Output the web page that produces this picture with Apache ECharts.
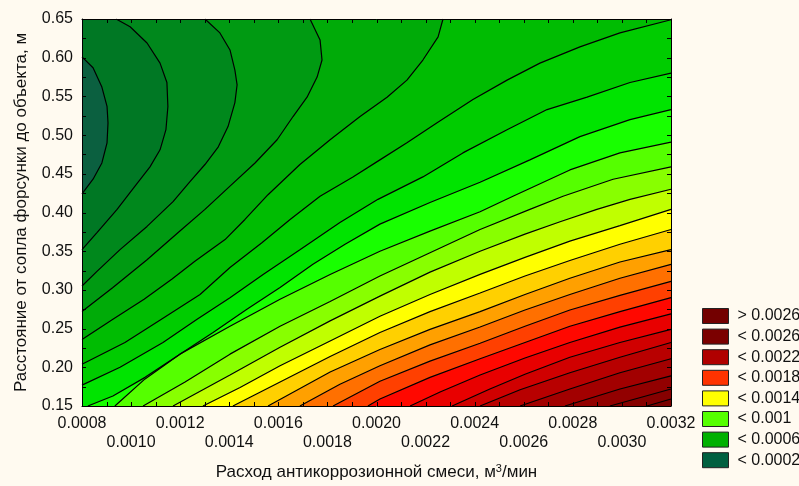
<!DOCTYPE html>
<html><head><meta charset="utf-8">
<script src="https://cdn.jsdelivr.net/npm/echarts@6/dist/echarts.min.js"></script>
<style>html,body{margin:0;padding:0;background:#fffaf0}#c{width:799px;height:486px}</style>
</head><body><div id="c"></div>
<script>
// ---- axis ranges / ticks ----
const xMin = 0.0008, xMax = 0.0032, xStep = 0.0002, xMinorStep = 0.0001;
const yMin = 0.15, yMax = 0.65, yStep = 0.05, yMinorStep = 0.025;

// ---- contour levels (values of the fitted surface) ----
const levels = [0.0002,0.0003,0.0004,0.0005,0.0006,0.0007,0.0008,0.0009,0.0010,0.0011,0.0012,0.0013,0.0014,
                0.0015,0.0016,0.0017,0.0018,0.0019,0.0020,0.0021,0.0022,0.0023,0.0024,0.0025];

// ---- contour lines: [x, y] ----
const L0002 = [[0.0008,0.601],[0.000845,0.587],[0.000881,0.562],[0.000902,0.537],[0.000906,0.516],[0.000902,0.490],[0.000881,0.464],[0.000845,0.443],[0.0008,0.424]];
const L0003 = [[0.000939,0.65],[0.000996,0.640],[0.001065,0.619],[0.001118,0.593],[0.001146,0.568],[0.00115,0.537],[0.001142,0.507],[0.001118,0.481],[0.001077,0.459],[0.001016,0.434],[0.000943,0.404],[0.000861,0.374],[0.0008,0.352]];
const L0004 = [[0.001301,0.65],[0.001362,0.632],[0.001403,0.610],[0.001423,0.584],[0.001432,0.565],[0.001423,0.542],[0.001395,0.511],[0.001354,0.484],[0.001301,0.462],[0.00124,0.440],[0.001171,0.414],[0.001065,0.382],[0.000955,0.352],[0.000861,0.324],[0.0008,0.305]];
const L0005 = [[0.001729,0.65],[0.00177,0.623],[0.001778,0.597],[0.001758,0.575],[0.001717,0.549],[0.00166,0.524],[0.001595,0.494],[0.001505,0.464],[0.001403,0.434],[0.001301,0.404],[0.001199,0.376],[0.001065,0.339],[0.000926,0.303],[0.0008,0.272]];
const L0006 = [[0.002271,0.65],[0.002251,0.627],[0.002189,0.597],[0.002124,0.571],[0.002043,0.549],[0.001933,0.524],[0.001811,0.494],[0.001688,0.462],[0.001558,0.423],[0.001464,0.391],[0.001383,0.365],[0.00126,0.337],[0.001167,0.314],[0.001053,0.288],[0.000926,0.262],[0.0008,0.236]];
const L0007 = [[0.0032,0.649],[0.002992,0.632],[0.002829,0.614],[0.002666,0.593],[0.002532,0.571],[0.002393,0.546],[0.002247,0.516],[0.002124,0.49],[0.002014,0.468],[0.001904,0.446],[0.00177,0.421],[0.001648,0.391],[0.001533,0.361],[0.001403,0.329],[0.001281,0.294],[0.001138,0.265],[0.000975,0.232],[0.0008,0.204]];
const L0008 = [[0.0032,0.58],[0.003033,0.568],[0.002858,0.549],[0.002695,0.533],[0.002532,0.507],[0.002352,0.477],[0.002189,0.446],[0.002006,0.417],[0.001851,0.387],[0.001688,0.352],[0.001538,0.32],[0.001403,0.29],[0.001269,0.262],[0.00113,0.232],[0.000955,0.2],[0.0008,0.177]];
const L0009 = [[0.0032,0.533],[0.003033,0.52],[0.002829,0.498],[0.002625,0.468],[0.002422,0.439],[0.002218,0.413],[0.002014,0.385],[0.001872,0.359],[0.001741,0.333],[0.001607,0.303],[0.001472,0.275],[0.001334,0.245],[0.001199,0.217],[0.001057,0.187],[0.000926,0.163],[0.000824,0.15]];
const L0010 = [[0.0032,0.491],[0.002992,0.477],[0.002788,0.455],[0.002556,0.421],[0.002422,0.401],[0.002218,0.376],[0.002014,0.35],[0.001811,0.32],[0.001607,0.288],[0.001403,0.253],[0.001199,0.217],[0.001057,0.185],[0.000934,0.15]];
const L0011 = [[0.0032,0.459],[0.002964,0.443],[0.00276,0.421],[0.002625,0.404],[0.002422,0.378],[0.002218,0.348],[0.002014,0.318],[0.001811,0.285],[0.001607,0.253],[0.001403,0.217],[0.00122,0.181],[0.001049,0.15]];
const L0012 = [[0.0032,0.43],[0.003033,0.417],[0.002898,0.404],[0.002748,0.388],[0.002605,0.372],[0.002422,0.35],[0.002218,0.323],[0.002014,0.292],[0.001811,0.26],[0.001607,0.226],[0.001403,0.19],[0.001171,0.15]];
const L0013 = [[0.0032,0.404],[0.002992,0.383],[0.002788,0.363],[0.002605,0.342],[0.002422,0.32],[0.002218,0.294],[0.002014,0.266],[0.001811,0.234],[0.001607,0.202],[0.001444,0.174],[0.001293,0.15]];
const L0014 = [[0.0032,0.378],[0.002992,0.359],[0.002788,0.338],[0.002605,0.318],[0.002422,0.296],[0.002218,0.272],[0.002014,0.245],[0.001811,0.214],[0.001607,0.181],[0.001415,0.15]];
const L0015 = [[0.0032,0.352],[0.002992,0.336],[0.002788,0.315],[0.002605,0.294],[0.002422,0.272],[0.002218,0.249],[0.002014,0.223],[0.001811,0.194],[0.001558,0.15]];
const L0016 = [[0.0032,0.333],[0.002992,0.315],[0.002788,0.294],[0.002605,0.274],[0.002422,0.252],[0.002218,0.229],[0.002014,0.202],[0.001851,0.178],[0.001688,0.15]];
const L0017 = [[0.0032,0.311],[0.002992,0.293],[0.002788,0.274],[0.002605,0.253],[0.002422,0.231],[0.002218,0.208],[0.002014,0.182],[0.001823,0.15]];
const L0018 = [[0.0032,0.29],[0.002992,0.272],[0.002788,0.253],[0.002605,0.232],[0.002422,0.211],[0.002218,0.187],[0.002014,0.159],[0.001965,0.15]];
const L0019 = [[0.0032,0.269],[0.002992,0.252],[0.002788,0.232],[0.002605,0.212],[0.002422,0.19],[0.002259,0.168],[0.002137,0.15]];
const L0020 = [[0.0032,0.249],[0.002992,0.232],[0.002788,0.213],[0.002605,0.191],[0.002462,0.172],[0.002308,0.15]];
const L0021 = [[0.0032,0.232],[0.002992,0.213],[0.002788,0.193],[0.002585,0.171],[0.002422,0.15]];
const L0022 = [[0.0032,0.211],[0.002992,0.193],[0.002788,0.172],[0.002585,0.15]];
const L0023 = [[0.0032,0.189],[0.002992,0.172],[0.002768,0.15]];
const L0024 = [[0.0032,0.172],[0.002951,0.15]];
const L0025 = [[0.0032,0.159],[0.003102,0.15]];

const contours = [L0002,L0003,L0004,L0005,L0006,L0007,L0008,L0009,L0010,L0011,L0012,L0013,
                  L0014,L0015,L0016,L0017,L0018,L0019,L0020,L0021,L0022,L0023,L0024,L0025];

// ---- legend ----
const legendLabels = ['> 0.0026','< 0.0026','< 0.0022','< 0.0018','< 0.0014','< 0.001','< 0.0006','< 0.0002'];

// ---- styles ----
const legendColors = ['#730000','#7b0000','#b00000','#ff3300','#ffff00','#55ff00','#00b000','#006040'];
// band k (between level k*0.0001 and (k+1)*0.0001), k = 1..25
const bandColors = ['#0b6040','#007824','#00881c','#009a12','#00ab08','#00bc02','#00cc00','#00e400','#18ff00',
  '#55ff00','#88ff00','#c0ff00','#ffff00','#ffd000','#ffa000','#ff7000','#ff4000','#ff0800','#e80000',
  '#d00000','#b80000','#a20000','#920000','#860000','#7a0000'];
const FONT = "'Liberation Sans', Arial, sans-serif";

const eps = 1e-7;
function edgeOf(p){
  if (Math.abs(p[0]-xMin) < eps) return 0;        // left
  if (Math.abs(p[1]-yMin) < 1e-6) return 1;       // bottom
  if (Math.abs(p[0]-xMax) < eps) return 2;        // right
  return 3;                                        // top
}
const cornerAfter = [[xMin,yMin],[xMax,yMin],[xMax,yMax],[xMin,yMax]];

function regionOf(i){
  if (i === 0) return {pts:[[xMin,yMax],[xMax,yMax],[xMax,yMin],[xMin,yMin]], band: 2};
  const line = contours[i-1];
  const lev = Math.round(levels[i-1]*10000);
  const eS = edgeOf(line[0]), eE = edgeOf(line[line.length-1]);
  if (eS === eE) return {pts: line.slice(), band: lev-1};   // closed pocket of lower values
  const pts = line.slice();
  let e = eE;
  while (e !== eS){ pts.push(cornerAfter[e]); e = (e+1)%4; }
  return {pts, band: lev};
}

const fillData = [[xMin,yMin]].concat(contours.map(()=>[xMin,yMin]));

// tick positions along the frame (axis decoration, taken from the axis ranges)
const tickData = [];
for (let k = 0; xMin + k*xMinorStep <= xMax + 1e-12; k++) tickData.push([xMin + k*xMinorStep, yMin, 0]);
for (let k = 0; yMin + k*yMinorStep <= yMax + 1e-9; k++) tickData.push([xMin, yMin + k*yMinorStep, 1]);

const series = [{
  type:'custom', coordinateSystem:'cartesian2d', silent:true, clip:true, z:1,
  data: fillData,
  renderItem: function(params, api){
    const r = regionOf(params.dataIndex);
    return {type:'polygon', shape:{points: r.pts.map(p=>api.coord(p))},
            style:{fill: bandColors[r.band-1], stroke: null}};
  }
},{
  type:'custom', coordinateSystem:'cartesian2d', silent:true, clip:false, z:6,
  dimensions:['x','y','kind'],
  data: tickData,
  renderItem: function(params, api){
    const v0 = api.value(0), v1 = api.value(1), kind = api.value(2);
    const L = 4;
    if (kind === 0){
      const b = api.coord([v0, yMin]), t = api.coord([v0, yMax]);
      const x = Math.round(b[0]) + 0.5;
      return {type:'group', children:[
        {type:'line', shape:{x1:x, y1:b[1], x2:x, y2:b[1]-L}, style:{stroke:'#000', lineWidth:1}},
        {type:'line', shape:{x1:x, y1:t[1], x2:x, y2:t[1]+L}, style:{stroke:'#000', lineWidth:1}}]};
    }
    const l = api.coord([xMin, v1]), r = api.coord([xMax, v1]);
    const y = Math.round(l[1]) + 0.5;
    return {type:'group', children:[
      {type:'line', shape:{x1:l[0], y1:y, x2:l[0]+L, y2:y}, style:{stroke:'#000', lineWidth:1}},
      {type:'line', shape:{x1:r[0], y1:y, x2:r[0]-L, y2:y}, style:{stroke:'#000', lineWidth:1}}]};
  }
}];
contours.forEach(function(line){
  series.push({type:'line', data: line, showSymbol:false, silent:true, z:3,
    lineStyle:{color:'#000', width:1.2}, animation:false});
});
legendLabels.forEach(function(name, i){
  series.push({type:'scatter', name: name, data: [], itemStyle:{color: legendColors[i], opacity:1}});
});

function lineSt(){ return {show:true, onZero:false, lineStyle:{color:'#000', width:1}}; }

const chart = echarts.init(document.getElementById('c'), null, {renderer:'canvas'});
chart.setOption({
  animation:false,
  backgroundColor:'#fffaf0',
  grid:{left:82, top:19, width:589, height:388, containLabel:false},
  xAxis:[{
    type:'value', min:xMin, max:xMax, interval:xStep, position:'bottom', zlevel:1, z:10,
    axisLine:lineSt(), axisTick:{show:false}, splitLine:{show:false},
    axisLabel:{color:'#111', fontSize:16, fontFamily:FONT, margin:8, lineHeight:19,
      formatter:function(v){ const k = Math.round((v-xMin)/xStep); const s = v.toFixed(4); return k%2===0 ? s : '\n'+s; }},
    name:'Расход антикоррозионной смеси, м{sup|3}/мин', nameLocation:'middle', nameGap:57,
    nameTextStyle:{color:'#111', fontSize:17, fontFamily:FONT, rich:{sup:{fontSize:11, fontFamily:FONT, color:'#111', padding:[0,0,8,0]}}}
  },{
    type:'value', min:xMin, max:xMax, interval:xStep, position:'top', zlevel:1, z:10,
    axisLine:lineSt(), axisTick:{show:false}, splitLine:{show:false}, axisLabel:{show:false}
  }],
  yAxis:[{
    type:'value', min:yMin, max:yMax, interval:yStep, position:'left', zlevel:1, z:10,
    axisLine:lineSt(), axisTick:{show:false}, splitLine:{show:false},
    axisLabel:{color:'#111', fontSize:16, fontFamily:FONT, margin:9, formatter:function(v){return v.toFixed(2);}},
    name:'Расстояние от сопла форсунки до объекта, м', nameLocation:'middle', nameGap:52, nameRotate:90,
    nameTextStyle:{color:'#111', fontSize:17, fontFamily:FONT}
  },{
    type:'value', min:yMin, max:yMax, interval:yStep, position:'right', zlevel:1, z:10,
    axisLine:lineSt(), axisTick:{show:false}, splitLine:{show:false}, axisLabel:{show:false}
  }],
  legend:{
    data: legendLabels, orient:'vertical', left:702, top:308, padding:0, icon:'rect',
    itemWidth:26, itemHeight:15, itemGap:4.6, selectedMode:false,
    itemStyle:{borderColor:'#222', borderWidth:1, opacity:1},
    textStyle:{color:'#111', fontSize:16, fontFamily:FONT, lineHeight:15, padding:[0,0,0,4]}
  },
  series: series
});
</script></body></html>
